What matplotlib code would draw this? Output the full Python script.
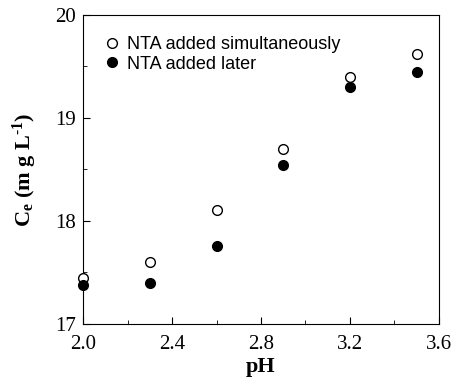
import matplotlib
matplotlib.use("Agg")
import matplotlib.pyplot as plt
from matplotlib.ticker import MultipleLocator, FormatStrFormatter

plt.rcParams["mathtext.fontset"] = "custom"
plt.rcParams["mathtext.rm"] = "Liberation Serif:bold"
plt.rcParams["mathtext.it"] = "Liberation Serif:italic"
plt.rcParams["mathtext.bf"] = "Liberation Serif:bold"

ph = [2.0, 2.3, 2.6, 2.9, 3.2, 3.5]
ce_simultaneous = [17.45, 17.60, 18.11, 18.70, 19.40, 19.62]
ce_later = [17.38, 17.40, 17.76, 18.54, 19.30, 19.45]

fig = plt.figure(figsize=(4.52, 3.82), dpi=100)
ax = fig.add_axes([0.184, 0.152, 0.787, 0.809])

ax.plot(ph, ce_simultaneous, "o", mfc="white", mec="black", mew=1.0, ms=7,
        label="NTA added simultaneously", clip_on=False, zorder=3)
ax.plot(ph, ce_later, "o", mfc="black", mec="black", ms=7,
        label="NTA added later", clip_on=False, zorder=3)

ax.set_xlim(2.0, 3.6)
ax.set_ylim(17, 20)
ax.xaxis.set_major_locator(MultipleLocator(0.4))
ax.xaxis.set_minor_locator(MultipleLocator(0.2))
ax.yaxis.set_major_locator(MultipleLocator(1))
ax.yaxis.set_minor_locator(MultipleLocator(0.5))
ax.xaxis.set_major_formatter(FormatStrFormatter("%.1f"))
ax.tick_params(which="both", direction="in", top=False, right=False)
ax.tick_params(which="major", length=5, labelsize=15)
ax.tick_params(axis="x", which="major", pad=8)
ax.tick_params(axis="y", which="major", pad=5)
ax.tick_params(which="minor", length=3)
for lbl in ax.get_xticklabels() + ax.get_yticklabels():
    lbl.set_fontfamily("Liberation Serif")

ax.set_xlabel("pH", fontsize=16, fontweight="bold", family="Liberation Serif", labelpad=2)
ax.set_ylabel("$\\mathbf{C_e}$ (m g L$^{\\text{\u2010}\\mathbf{1}}$)", fontsize=16,
              fontweight="bold", family="Liberation Serif", labelpad=12)

ax.legend(loc="upper left", frameon=False, prop={"family": "Liberation Sans", "size": 13},
          handletextpad=0.25, borderaxespad=0.6, labelspacing=0.15, handlelength=1.2,
          bbox_to_anchor=(0.0, 0.99))

fig.savefig("out.png", dpi=100)
